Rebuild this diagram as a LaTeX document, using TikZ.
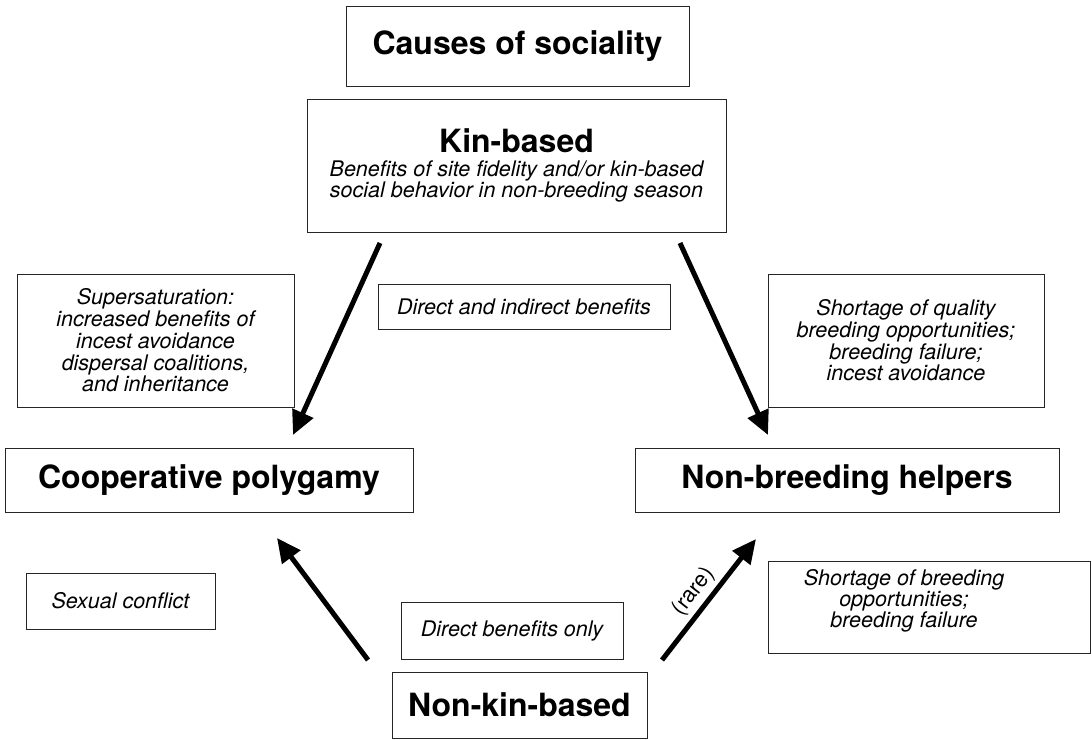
\documentclass[tikz,border=0pt]{standalone}
\usepackage{fontspec}
\setmainfont{TeX Gyre Heros}
\usepackage{tikz}
\usetikzlibrary{arrows.meta}

\newcommand{\headfont}{\fontsize{32}{34}\selectfont\bfseries}
\newcommand{\notefont}{\fontsize{21.5}{21.7}\selectfont\itshape}

\tikzset{
box/.style={draw=black!85,line width=0.9pt,inner sep=0pt,align=center},
head/.style={font=\headfont},
note/.style={font=\notefont},
fat/.style={line width=5pt,-{Triangle[length=24pt,width=22pt]}}
}

\begin{document}
\begin{tikzpicture}[x=1pt,y=-1pt]
\useasboundingbox(0,0)rectangle(1092,739);
% boxes
\node[box,head,minimum width=343pt,minimum height=80pt](cause)at(517.5,46){Causes of sociality};
\node[box,note,minimum width=419pt,minimum height=133pt](kin)at(516.5,165.5)
{{\headfont\upshape Kin-based}\\[2pt]
Benefits of site fidelity and/or kin-based\\
social behavior in non-breeding season};
\node[box,note,minimum width=277pt,minimum height=133pt](super)at(155.5,340.5)
{Supersaturation:\\increased benefits of\\incest avoidance\\dispersal coalitions,\\and inheritance};
\node[box,note,minimum width=292pt,minimum height=45pt](both)at(524,306.5){Direct and indirect benefits};
\node[box,note,minimum width=276pt,minimum height=133pt](quality)at(906,340.5)
{Shortage of quality\\breeding opportunities;\\breeding failure;\\incest avoidance};
\node[box,head,minimum width=408pt,minimum height=64pt](coop)at(209,480){Cooperative polygamy};
\node[box,head,minimum width=424pt,minimum height=64pt](helper)at(847,480){Non-breeding helpers};
\node[box,note,minimum width=189pt,minimum height=56pt](sexual)at(120.5,601){Sexual conflict};
\node[box,note,minimum width=222pt,minimum height=57pt](only)at(512,630.5){Direct benefits only};
\node[box,head,minimum width=255pt,minimum height=66pt](nonkin)at(519.5,705){Non-kin-based};
\node[box,minimum width=322pt,minimum height=92pt](shortage)at(929,607){};
\node[align=center,font=\fontsize{21.5}{19.5}\selectfont\itshape](shorttext)at(904,601)
{Shortage of breeding\\opportunities;\\breeding failure};
% arrows
\coordinate(k1)at(380,243);
\coordinate(k2)at(680,243);
\coordinate(c1)at(293,435);
\coordinate(h1)at(768,435);
\coordinate(n1)at(368,660);
\coordinate(n2)at(662,660);
\coordinate(c2)at(277,538);
\coordinate(h2)at(756,539);
\draw[fat](k1)--(c1);
\draw[fat](k2)--(h1);
\draw[fat](n1)--(c2);
\draw[fat](n2)--node[sloped,above,pos=0.48,inner sep=4pt,font=\fontsize{22}{22}\selectfont](rare){(rare)}(h2);
\end{tikzpicture}
\end{document}
